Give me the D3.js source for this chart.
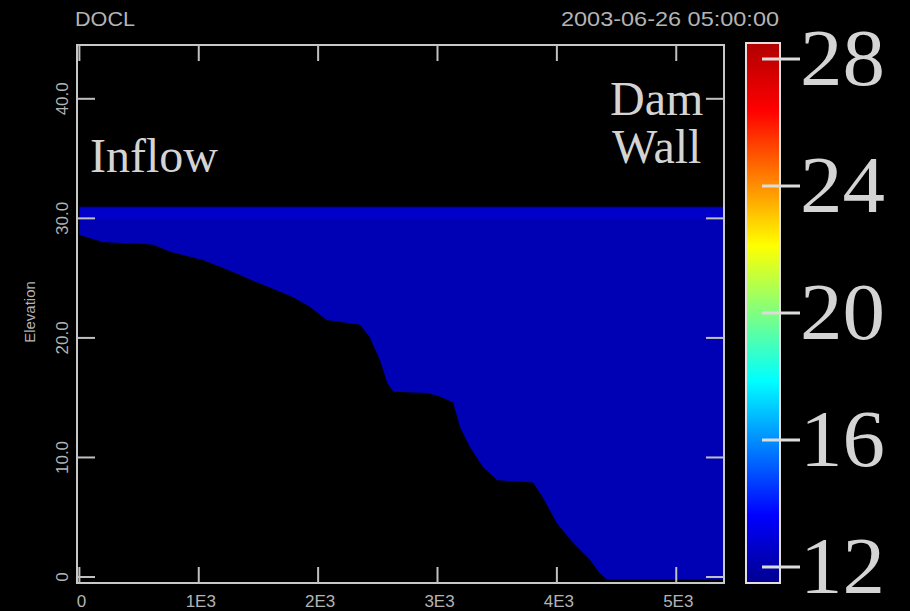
<!DOCTYPE html>
<html lang="en">
<head>
    <meta charset="UTF-8">
    <title>DOCL 2003-06-26 05:00:00</title>
    <script src="https://d3js.org/d3.v7.min.js"></script>
    <style>
        html, body { margin: 0; padding: 0; background: #000; }
        svg { display: block; }
        .small { font-family: "Liberation Sans", Arial, sans-serif; fill: #b4b4b4; }
        .big { font-family: "Liberation Serif", "Times New Roman", serif; fill: #d4d4d4; }
    </style>
</head>
<body>
    <svg id="chart" width="910" height="611"></svg>

    <script>
        // Bed profile along the reservoir (distance in m, elevation in m)
        const bedDistance = [0, 200, 480, 620, 760, 1040, 1240, 1450, 1600, 1790, 1930, 2070, 2350, 2430,
            2520, 2580, 2630, 2910, 3020, 3130, 3190, 3270, 3380, 3500, 3800, 3880, 4000, 4140, 4280,
            4360, 4420, 5400];
        const bedElevation = [28.6, 28.0, 27.9, 27.8, 27.2, 26.5, 25.7, 24.8, 24.2, 23.4, 22.6, 21.5, 21.1, 20.1,
            18.1, 16.2, 15.5, 15.4, 15.1, 14.6, 12.5, 10.9, 9.2, 8.1, 7.9, 6.7, 4.5, 2.8, 1.4,
            0.3, -0.2, -0.2];

        // water surface and temperature layers
        const surfaceElevation = 31.0;
        const layerBottom = [-0.5, 29.8];
        const layerTop = [29.8, 31.0];
        const layerTemp = [12.2, 12.6];

        // axes
        const xTicks = [0, 1000, 2000, 3000, 4000, 5000];
        const xTickLabels = ["0", "1E3", "2E3", "3E3", "4E3", "5E3"];
        const yTicks = [0, 10, 20, 30, 40];
        const yTickLabels = ["0", "10.0", "20.0", "30.0", "40.0"];
        const cbTicks = [12, 16, 20, 24, 28];

        const svg = d3.select("#chart");

        const pLeft = 77, pRight = 724, pTop = 45, pBottom = 583;
        const x = d3.scaleLinear().domain([-20, 5400]).range([pLeft, pRight]);
        const y = d3.scaleLinear().domain([-0.5, 44.5]).range([pBottom, pTop]);

        // jet colour map
        const tMin = 11.5, tMax = 28.5;
        const jetStops = ["#00008f", "#0000ff", "#00ffff", "#ffff00", "#ff0000", "#b00000"];
        const jetPos = [0, 0.125, 0.375, 0.625, 0.875, 1];
        const color = d3.scaleLinear()
            .domain(jetPos.map(p => tMin + p * (tMax - tMin)))
            .range(jetStops)
            .clamp(true);

        svg.append("rect").attr("width", 910).attr("height", 611).attr("fill", "#000");

        // water body clip: between bed and surface
        const bed = bedDistance.map((d, i) => [d, bedElevation[i]]);
        const waterArea = d3.area()
            .x(d => x(d[0]))
            .y0(d => y(d[1]))
            .y1(() => y(surfaceElevation));

        svg.append("clipPath").attr("id", "water")
            .append("path").attr("d", waterArea(bed));

        const plot = svg.append("g").attr("clip-path", "url(#water)")
            .style("filter", "blur(0.8px)");
        plot.selectAll("rect.layer")
            .data(layerTemp)
            .enter().append("rect")
            .attr("class", "layer")
            .attr("x", pLeft)
            .attr("width", pRight - pLeft)
            .attr("y", (d, i) => y(layerTop[i]))
            .attr("height", (d, i) => y(layerBottom[i]) - y(layerTop[i]))
            .attr("fill", d => color(d));

        // frame
        svg.append("rect")
            .attr("x", pLeft).attr("y", pTop)
            .attr("width", pRight - pLeft).attr("height", pBottom - pTop)
            .attr("fill", "none").attr("stroke", "#c8c8c8").attr("stroke-width", 2);

        // inward ticks on all four sides
        const tickCol = "#c0c0c0";
        xTicks.forEach(v => {
            svg.append("line").attr("x1", x(v)).attr("x2", x(v)).attr("y1", pBottom).attr("y2", pBottom - 16)
                .attr("stroke", tickCol).attr("stroke-width", 2);
            svg.append("line").attr("x1", x(v)).attr("x2", x(v)).attr("y1", pTop).attr("y2", pTop + 16)
                .attr("stroke", tickCol).attr("stroke-width", 2);
        });
        yTicks.forEach(v => {
            svg.append("line").attr("x1", pLeft).attr("x2", pLeft + 18).attr("y1", y(v)).attr("y2", y(v))
                .attr("stroke", tickCol).attr("stroke-width", 2);
            svg.append("line").attr("x1", pRight).attr("x2", pRight - 18).attr("y1", y(v)).attr("y2", y(v))
                .attr("stroke", tickCol).attr("stroke-width", 2);
        });

        // tick labels
        svg.selectAll("text.xl")
            .data(xTicks)
            .enter().append("text")
            .attr("class", "small xl")
            .attr("x", d => x(d) + 2)
            .attr("y", 607)
            .attr("text-anchor", "middle")
            .attr("font-size", 17)
            .text((d, i) => xTickLabels[i]);

        svg.selectAll("text.yl")
            .data(yTicks)
            .enter().append("text")
            .attr("class", "small yl")
            .attr("transform", d => `translate(68,${y(d)}) rotate(-90)`)
            .attr("text-anchor", "middle")
            .attr("font-size", 17)
            .text((d, i) => yTickLabels[i]);

        svg.append("text")
            .attr("class", "small")
            .attr("transform", "translate(35,312) rotate(-90)")
            .attr("text-anchor", "middle")
            .attr("font-size", 15)
            .text("Elevation");

        // header
        svg.append("text").attr("class", "small")
            .attr("x", 75).attr("y", 26).attr("font-size", 21)
            .attr("textLength", 60).attr("lengthAdjust", "spacingAndGlyphs")
            .text("DOCL");
        svg.append("text").attr("class", "small")
            .attr("x", 561).attr("y", 26).attr("font-size", 21)
            .attr("textLength", 218).attr("lengthAdjust", "spacingAndGlyphs")
            .text("2003-06-26 05:00:00");

        // annotations
        svg.append("text").attr("class", "big")
            .attr("x", 90).attr("y", 172).attr("font-size", 48)
            .text("Inflow");
        svg.append("text").attr("class", "big")
            .attr("x", 610).attr("y", 115).attr("font-size", 48)
            .text("Dam");
        svg.append("text").attr("class", "big")
            .attr("x", 612).attr("y", 163).attr("font-size", 48)
            .text("Wall");

        // colour bar
        const cb = d3.scaleLinear().domain([tMin, tMax]).range([583, 43]);
        const grad = svg.append("defs").append("linearGradient")
            .attr("id", "jet").attr("x1", 0).attr("x2", 0).attr("y1", 1).attr("y2", 0);
        grad.selectAll("stop")
            .data(jetPos)
            .enter().append("stop")
            .attr("offset", d => d)
            .attr("stop-color", (d, i) => jetStops[i]);

        svg.append("rect")
            .attr("x", 746).attr("y", cb(tMax))
            .attr("width", 34).attr("height", cb(tMin) - cb(tMax))
            .attr("fill", "url(#jet)")
            .attr("stroke", "#e6dede").attr("stroke-width", 2);

        svg.selectAll("line.cbt")
            .data(cbTicks)
            .enter().append("line")
            .attr("class", "cbt")
            .attr("x1", 762).attr("x2", 800)
            .attr("y1", d => cb(d)).attr("y2", d => cb(d))
            .attr("stroke", "#dcdcdc").attr("stroke-width", 3);

        svg.selectAll("text.cbl")
            .data(cbTicks)
            .enter().append("text")
            .attr("class", "big cbl")
            .attr("x", 800)
            .attr("y", d => cb(d) + 26)
            .attr("font-size", 80)
            .attr("textLength", 85).attr("lengthAdjust", "spacingAndGlyphs")
            .text(d => d);
    </script>
</body>
</html>
